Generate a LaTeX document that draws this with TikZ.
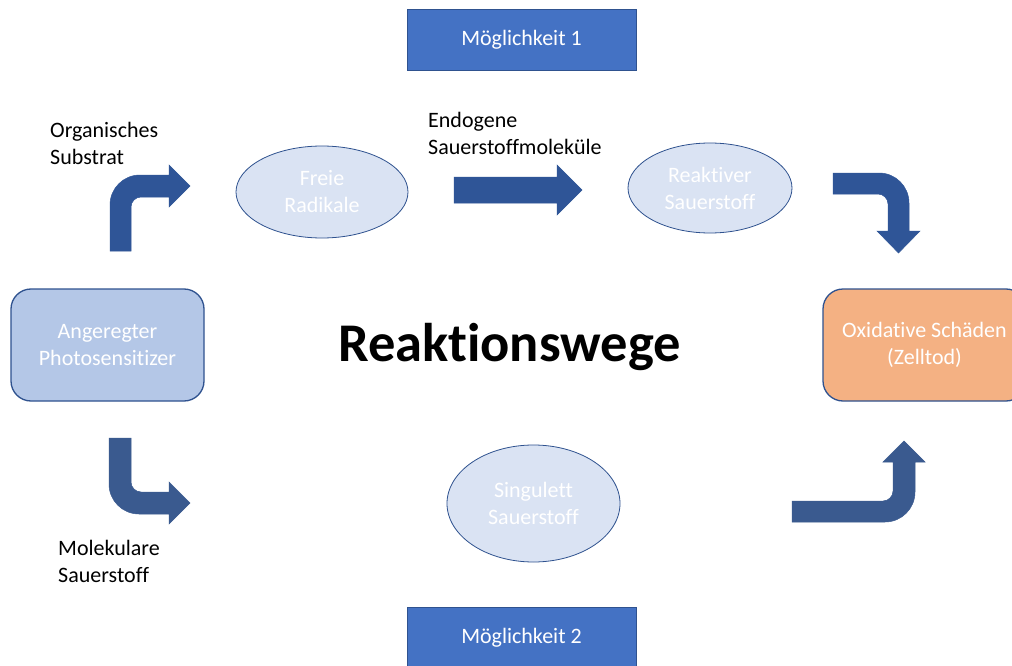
\documentclass[tikz,border=0pt]{standalone}
\usepackage{fontspec}
\setmainfont[Ligatures=NoCommon]{Carlito}
\usetikzlibrary{shapes.geometric}
\definecolor{boxblue}{HTML}{4472C4}
\definecolor{edgeblue}{HTML}{2F528F}
\definecolor{lightblue}{HTML}{B4C7E7}
\definecolor{paleblue}{HTML}{DAE3F3}
\definecolor{dmgorange}{HTML}{F4B183}
\definecolor{arrowblue}{HTML}{2F5597}
\definecolor{arrowblueB}{HTML}{3A5A8F}
\begin{document}
\begin{tikzpicture}[x=1pt,y=-1pt,
  every node/.style={font=\fontsize{22}{27}\selectfont},
  optbox/.style={draw=edgeblue,line width=1pt,fill=boxblue,text=white,minimum width=229pt,minimum height=61pt},
  roundbox/.style={draw=edgeblue,line width=1.3pt,rounded corners=20pt,text=white,align=center,minimum width=193pt,minimum height=112pt},
  ellbox/.style={ellipse,draw=edgeblue,line width=0.8pt,fill=paleblue,text=white,align=center,inner sep=0pt},
  label/.style={align=left,anchor=west,inner sep=0pt,text=black},
  blockarrow/.style={fill=arrowblue,draw=arrowblue,line width=0.5pt}
]
\useasboundingbox (0,0) rectangle (1012,666);
\fill[white] (0,0) rectangle (1012,666);

\node[optbox] (m1) at (521.5,40) {Möglichkeit 1};
\node[optbox] (m2) at (521.5,638) {Möglichkeit 2};

\node[roundbox,fill=lightblue] (ps) at (107.5,345) {Angeregter\\Photosensitizer};
\node[roundbox,fill=dmgorange,minimum width=203pt] (ox) at (924.5,345) {Oxidative Schäden\\(Zelltod)};

\node[ellbox,minimum width=172pt,minimum height=92pt] (fr) at (322,192) {Freie\\Radikale};
\node[ellbox,minimum width=164pt,minimum height=90pt] (rs) at (710,188) {Reaktiver\\Sauerstoff};
\node[ellbox,minimum width=173pt,minimum height=117pt] (ss) at (533.5,503.5) {Singulett\\Sauerstoff};

\node[label] (l1) at (50,143) {Organisches\\Substrat};
\node[label] (l2) at (428,133) {Endogene\\Sauerstoffmoleküle};
\node[label] (l3) at (58,561) {Molekulare\\Sauerstoff};

\node[font=\fontsize{54.5}{60}\selectfont\bfseries] (title) at (509.5,347) {Reaktionswege};

% block arrows
\path[blockarrow] (110,251) -- (110,205) .. controls (110,188.4) and (123.4,175) .. (140,175) -- (169,175) -- (169,165) -- (190,186) -- (169,207) -- (169,197) -- (141,197) .. controls (135.5,197) and (131,201.5) .. (131,207) -- (131,251) -- cycle;
\path[blockarrow,fill=arrowblueB,draw=arrowblueB] (109,438) -- (109,484) .. controls (109,500.6) and (122.4,514) .. (139,514) -- (169,514) -- (169,524) -- (190,503) -- (169,482) -- (169,492) -- (141,492) .. controls (135.5,492) and (131,487.5) .. (131,482) -- (131,438) -- cycle;
\path[blockarrow] (833,173) -- (879,173) .. controls (895.6,173) and (909,186.4) .. (909,203) -- (909,231) -- (920,231) -- (898.5,253) -- (877,231) -- (888,231) -- (888,204) .. controls (888,198.5) and (883.5,194) .. (878,194) -- (833,194) -- cycle;
\path[blockarrow,fill=arrowblueB,draw=arrowblueB] (792,522) -- (885,522) .. controls (901.6,522) and (915,508.6) .. (915,492) -- (915,462) -- (925,462) -- (904,441) -- (883,462) -- (893,462) -- (893,491) .. controls (893,496.5) and (888.5,501) .. (883,501) -- (792,501) -- cycle;
\path[blockarrow] (454,177) -- (557,177) -- (557,165) -- (582,190) -- (557,215) -- (557,203) -- (454,203) -- cycle;
\end{tikzpicture}
\end{document}
